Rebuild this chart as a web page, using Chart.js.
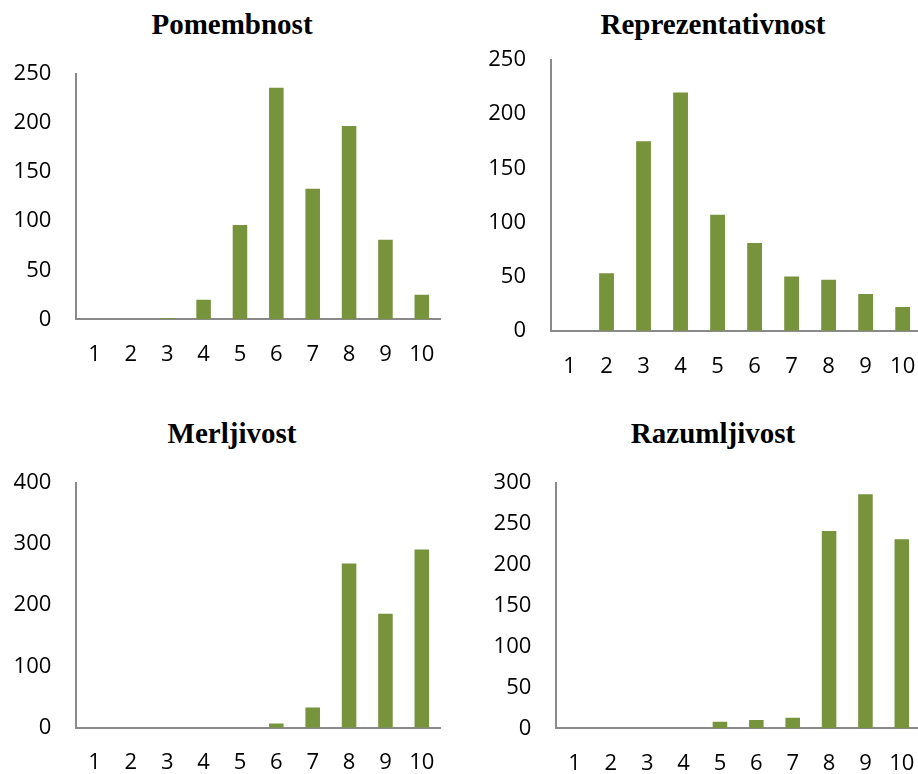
<!DOCTYPE html>
<html>
<head>
<meta charset="utf-8">
<script src="https://cdn.jsdelivr.net/npm/chart.js@4/dist/chart.umd.min.js"></script>
<style>
  html, body { margin: 0; padding: 0; background: #fff; }
  #wrap { position: relative; width: 918px; height: 774px; overflow: hidden; background: #fff; }
  #wrap canvas { position: absolute; }
  .ttl {
    position: absolute; width: 400px; margin-left: -200px; text-align: center;
    font: bold 29px/34.8px "Liberation Serif", "Times New Roman", serif; color: #000;
    white-space: nowrap;
  }
</style>
</head>
<body>
<div id="wrap">
  <div class="ttl" id="t1" style="left:232px;top:7px"></div>
  <div class="ttl" id="t2" style="left:713px;top:7px"></div>
  <div class="ttl" id="t3" style="left:232px;top:415.5px"></div>
  <div class="ttl" id="t4" style="left:713px;top:415.5px"></div>
  <canvas id="c1" width="459" height="400" style="left:0;top:0"></canvas>
  <canvas id="c2" width="480" height="400" style="left:459px;top:0"></canvas>
  <canvas id="c3" width="459" height="380" style="left:0;top:400px"></canvas>
  <canvas id="c4" width="480" height="380" style="left:459px;top:400px"></canvas>
</div>
<script>
// Rating scale 1..10 shared by all four panels
const ratings = ['1', '2', '3', '4', '5', '6', '7', '8', '9', '10'];

// Number of answers per rating
const pomembnost        = [0, 0, 1, 20, 96, 236, 133, 197, 81, 25];
const reprezentativnost = [0, 53, 175, 220, 107, 81, 50, 47, 34, 22];
const merljivost        = [0, 0, 0, 0, 0, 7, 33, 268, 186, 291];
const razumljivost      = [0, 0, 0, 0, 8, 10, 13, 241, 286, 231];

// Panel titles and value-axis ranges
const titles   = ['Pomembnost', 'Reprezentativnost', 'Merljivost', 'Razumljivost'];
const yMaxima  = [250, 250, 400, 300];
const ySteps   = [50, 50, 100, 50];

const BAR = '#77933C';
const AXIS = '#8A8A8A';

Chart.defaults.font.family = '"Open Sans", "Liberation Sans", sans-serif';
Chart.defaults.color = '#000';

function panel(id, values, yMax, step, box) {
  return new Chart(document.getElementById(id), {
    type: 'bar',
    data: {
      labels: ratings,
      datasets: [{
        data: values,
        backgroundColor: BAR,
        borderWidth: 0,
        categoryPercentage: 1,
        barPercentage: 0.4
      }]
    },
    options: {
      responsive: false,
      animation: false,
      devicePixelRatio: 1,
      events: [],
      layout: { padding: box.pad },
      plugins: {
        legend: { display: false },
        tooltip: { enabled: false },
        title: { display: false }
      },
      scales: {
        x: {
          grid: { display: false, drawTicks: false },
          border: { display: true, color: AXIS, width: 2 },
          ticks: { font: { size: 22 }, padding: box.xPad, maxRotation: 0, autoSkip: false },
          afterFit: s => { s.height = box.xHeight; }
        },
        y: {
          min: 0,
          max: yMax,
          grid: { display: false, drawTicks: false },
          border: { display: true, color: AXIS, width: 2 },
          ticks: { font: { size: 22 }, padding: 25, stepSize: step },
          afterFit: s => { s.width = box.yWidth; }
        }
      }
    }
  });
}

['t1', 't2', 't3', 't4'].forEach((id, i) => {
  document.getElementById(id).textContent = titles[i];
});

panel('c1', pomembnost, yMaxima[0], ySteps[0], {
  pad: { left: 0, right: 19, top: 74, bottom: 20.7 }, yWidth: 76.3, xHeight: 60, xPad: 22
});
panel('c2', reprezentativnost, yMaxima[1], ySteps[1], {
  pad: { left: 0, right: 15, top: 60, bottom: 9.3 }, yWidth: 92, xHeight: 60, xPad: 23
});
panel('c3', merljivost, yMaxima[2], ySteps[2], {
  pad: { left: 0, right: 19, top: 82.7, bottom: 2.3 }, yWidth: 76.3, xHeight: 50, xPad: 22
});
panel('c4', razumljivost, yMaxima[3], ySteps[3], {
  pad: { left: 0, right: 19, top: 82.7, bottom: 1.7 }, yWidth: 97.3, xHeight: 50, xPad: 22
});
</script>
</body>
</html>
